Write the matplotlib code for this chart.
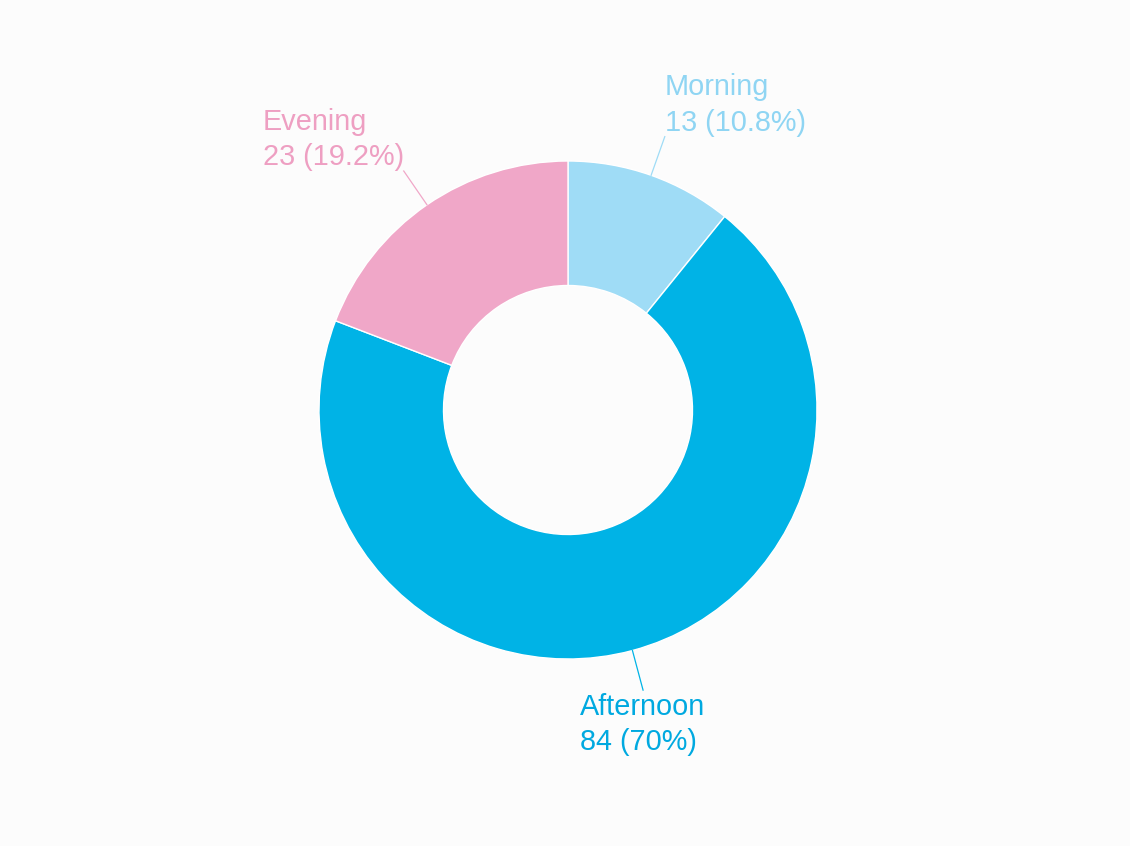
import numpy as np
import matplotlib.pyplot as plt

labels = ['Morning', 'Afternoon', 'Evening']
values = [13, 84, 23]
colors = ['#9fdcf6', '#00b3e6', '#f0a7c8']
text_colors = ['#8fd5f3', '#00a9e0', '#ee9fc2']

plt.rcParams['font.family'] = ['Liberation Sans', 'DejaVu Sans']

W, H = 1130, 846
fig = plt.figure(figsize=(W / 100, H / 100), dpi=100)
fig.patch.set_facecolor('#fcfcfc')
ax = fig.add_axes([0, 0, 1, 1])

cx, cy, r = 568, H - 410, 249
wedges, _ = ax.pie(values, colors=colors, startangle=90, counterclock=False,
                   center=(cx, cy), radius=r,
                   wedgeprops=dict(width=r * 0.5, edgecolor='white', linewidth=1))

# pie() resets the limits, so set pixel-like limits afterwards
ax.set_xlim(0, W)
ax.set_ylim(0, H)
ax.set_aspect('equal')
ax.axis('off')

total = sum(values)
start = 90.0
for lab, v, col, tcol in zip(labels, values, colors, text_colors):
    sweep = v / total * 360
    mid = np.deg2rad(start - sweep / 2)
    start -= sweep
    x0, y0 = cx + r * np.cos(mid), cy + r * np.sin(mid)
    x1, y1 = cx + 290 * np.cos(mid), cy + 290 * np.sin(mid)
    ax.plot([x0, x1], [y0, y1], color=col, lw=0.9)
    pct = v / total * 100
    pct_s = f'{pct:.1f}'.rstrip('0').rstrip('.')
    txt = f'{lab}\n{v} ({pct_s}%)'
    if y1 < cy:
        ha, va = 'center', 'top'
        y1 -= 3
    elif x1 >= cx:
        ha, va = 'left', 'bottom'
    else:
        ha, va = 'right', 'bottom'
    ax.text(x1, y1, txt, color=tcol, fontsize=20.8, ha=ha, va=va,
            multialignment='left', linespacing=1.33)

fig.savefig('out.png', dpi=100, facecolor=fig.get_facecolor())
